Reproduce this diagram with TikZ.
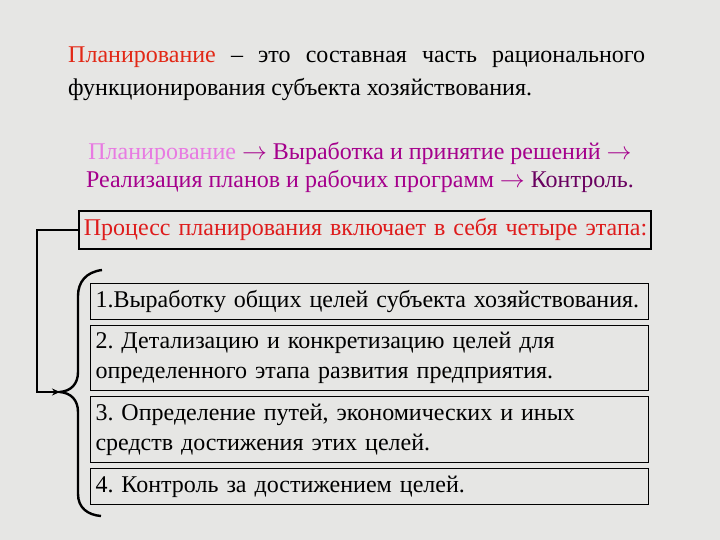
\documentclass[tikz,border=0pt]{standalone}
\usepackage{fontspec}
\setmainfont{Liberation Serif}
\usepackage{xcolor}
\definecolor{slidegray}{RGB}{230,230,228}
\definecolor{planred}{RGB}{226,40,22}
\definecolor{planpink}{RGB}{232,122,226}
\definecolor{chainmagenta}{RGB}{165,0,140}
\definecolor{ctrlpurple}{RGB}{105,0,95}
\definecolor{procred}{RGB}{222,28,28}
\usetikzlibrary{positioning,calc,arrows.meta}

\begin{document}
\frenchspacing
\begin{tikzpicture}[x=1pt,y=-1pt,
  stage/.style={draw,line width=1pt,anchor=north west,text width=548pt,inner xsep=5pt,inner ysep=0pt,align=left,font=\fontsize{24}{30}\selectfont},
  brace/.style={line width=2.4pt},
  link/.style={line width=2pt,-{Stealth[length=8pt,width=7pt]}}]
\fill[slidegray] (0,0) rectangle (720,540);
\node[anchor=north west,text width=577pt,inner sep=0pt,align=justify,font=\fontsize{24}{33}\selectfont] (def) at (68,47)
  {\textcolor{planred}{Планирование} -- это составная часть рационального\linebreak функционирования субъекта хозяйствования.};
\node[align=center,inner sep=0pt,font=\fontsize{24}{28}\selectfont,text=chainmagenta] (chain) at (360,167)
  {\textcolor{planpink}{Планирование} $\rightarrow$ Выработка и принятие решений $\rightarrow$\\
   Реализация планов и рабочих программ $\rightarrow$ \textcolor{ctrlpurple}{Контроль.}};
\node[draw,line width=1.8pt,anchor=north west,text width=562pt,minimum height=38pt,inner xsep=5pt,inner ysep=0pt,align=left,text=procred,font=\fontsize{24}{26}\selectfont] (proc) at (78,210)
  {\mbox{Процесс планирования включает в себя четыре этапа:}};
\node[stage,minimum height=36pt] (s1) at (90,283) {\mbox{1.Выработку общих целей субъекта хозяйствования.}};
\node[stage,minimum height=65pt] (s2) at (90,325) {2. Детализацию и конкретизацию целей для\\определенного этапа развития предприятия.};
\node[stage,minimum height=66pt] (s3) at (90,396) {3. Определение путей, экономических и иных\\средств достижения этих целей.};
\node[stage,minimum height=36pt] (s4) at (90,468) {4. Контроль за достижением целей.};
\coordinate (tip) at (60,392);
\draw[brace] (102,270) .. controls (86,272) and (78,282) .. (78,296) -- (78,372)
  .. controls (78,384) and (71,391) .. (tip) .. controls (71,393) and (78,400) .. (78,412) -- (78,494)
  .. controls (78,508) and (88,515) .. (101,516);
\draw[link] (proc.west) -- ++(-41,0) |- (tip);
\end{tikzpicture}
\end{document}
